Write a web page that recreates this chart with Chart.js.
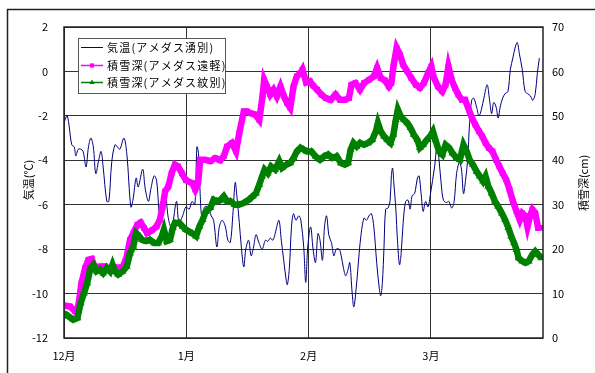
<!DOCTYPE html>
<html>
<head>
<meta charset="utf-8">
<script src="https://cdn.jsdelivr.net/npm/chart.js@4/dist/chart.umd.min.js"></script>
<style>
  html, body { margin: 0; padding: 0; background: #fff; }
  #wrap { width: 595px; height: 373px; position: relative; }
</style>
</head>
<body>
<div id="wrap"><canvas id="c" width="595" height="373"></canvas></div>
<script>
// Winter season, days counted from 1 December
const monthLabels = ['12月', '1月', '2月', '3月'];
const monthTickDays = [0, 30, 60, 90];

// 気温 (アメダス湧別), ℃
const tempDays = [0.0,0.8,1.9,2.5,2.9,3.5,4.1,4.7,5.4,6.0,6.6,7.2,7.8,8.5,9.1,9.6,10.5,11.0,11.7,12.5,13.1,13.7,14.7,15.4,16.4,16.9,17.7,18.2,19.3,19.9,20.7,21.3,22.1,22.7,23.5,24.2,24.8,25.5,26.2,26.7,27.6,28.2,29.1,29.9,30.7,31.4,32.1,32.6,33.0,33.4,33.8,34.5,35.3,36.1,36.7,37.5,38.1,38.8,39.6,40.2,40.8,41.4,42.0,42.4,43.0,43.5,44.1,44.6,45.3,45.9,46.5,47.1,47.8,48.6,49.4,50.0,50.6,51.2,51.8,52.7,53.3,53.9,54.5,54.8,55.3,55.8,56.3,56.9,57.6,58.1,58.8,59.3,59.8,60.5,61.1,61.7,62.3,62.8,63.4,63.9,64.4,65.0,65.6,66.2,66.8,67.5,68.0,68.5,69.1,69.7,70.1,70.7,71.1,71.7,72.4,72.9,73.6,74.2,74.8,75.4,76.0,76.7,77.3,77.7,78.1,78.5,78.9,79.5,80.0,80.3,80.6,80.9,81.4,81.8,82.3,82.7,83.2,83.8,84.4,84.9,85.4,86.0,86.7,87.1,87.6,88.1,88.7,89.3,89.9,90.9,91.5,92.0,92.6,93.1,93.8,94.4,95.1,95.7,96.3,97.0,97.5,98.0,98.5,99.0,99.5,100.0,100.5,101.2,101.8,102.4,103.0,103.8,104.4,104.9,105.4,106.0,106.5,107.0,107.6,108.2,108.9,109.5,110.1,110.7,111.2,111.7,112.4,113.1,113.7,114.4,115.0,115.6,116.1,116.6];
const tempValues = [-2.3,-2.0,-3.3,-3.4,-3.8,-3.5,-3.5,-3.6,-4.3,-3.4,-3.0,-3.4,-4.6,-4.0,-3.6,-4.3,-5.85,-5.85,-4.1,-3.3,-3.4,-3.5,-3.0,-3.7,-6.1,-5.8,-4.8,-5.2,-4.4,-5.25,-5.85,-5.3,-4.7,-4.9,-6.5,-6.1,-5.3,-6.5,-7.0,-6.8,-5.85,-6.8,-6.5,-6.1,-6.2,-5.85,-6.0,-3.4,-3.7,-5.5,-6.5,-6.1,-6.1,-6.5,-6.7,-7.9,-7.0,-6.7,-7.0,-7.6,-7.7,-6.5,-5.0,-5.6,-6.8,-7.9,-8.8,-8.0,-7.6,-8.3,-7.9,-7.35,-7.7,-8.0,-7.6,-7.65,-7.5,-7.6,-7.3,-6.7,-7.6,-8.5,-9.4,-9.6,-8.8,-7.0,-6.4,-6.7,-6.5,-6.7,-7.9,-9.5,-7.9,-7.0,-8.0,-8.6,-7.3,-7.6,-8.5,-7.0,-6.5,-7.4,-7.7,-8.3,-8.0,-8.0,-8.3,-8.8,-9.2,-8.9,-8.6,-10.0,-10.6,-9.7,-8.2,-7.3,-6.6,-6.7,-6.5,-6.4,-7.0,-8.6,-9.7,-10.1,-9.5,-7.9,-6.2,-6.15,-5.8,-4.7,-4.35,-5.0,-6.2,-7.6,-8.7,-8.2,-6.8,-5.85,-5.8,-6.2,-5.6,-5.5,-4.8,-4.7,-5.5,-6.3,-5.85,-6.1,-5.5,-4.3,-3.4,-4.0,-5.2,-5.8,-5.9,-5.85,-6.15,-5.85,-4.6,-4.1,-4.4,-5.5,-4.9,-4.0,-2.3,-1.3,-1.2,-1.6,-2.0,-1.7,-1.2,-0.6,-1.3,-1.9,-1.4,-1.6,-2.1,-1.6,-1.2,-1.0,-0.9,0.1,0.6,1.1,1.3,0.8,0.1,-0.9,-1.0,-1.1,-1.3,-1.0,-0.1,0.6];

// 積雪深 (アメダス遠軽), cm
const engaruDays = [0.0,1.5,2.7,3.5,4.3,5.2,6.0,6.8,7.6,8.8,10.1,11.1,12.1,13.3,14.5,15.4,16.2,17.0,18.0,18.8,19.6,20.4,21.5,22.7,23.5,24.2,24.8,25.6,26.4,27.2,28.0,28.9,29.9,31.4,32.2,32.9,33.4,34.7,35.9,37.1,38.3,39.2,40.0,41.2,42.2,43.0,44.1,44.9,45.7,46.9,47.9,48.7,49.1,49.8,50.6,51.4,52.2,53.1,53.9,54.7,55.5,56.3,57.1,58.0,58.5,59.4,60.3,61.1,62.1,63.1,64.2,65.4,66.6,67.7,68.9,69.9,70.5,71.5,72.6,73.6,74.8,76.0,76.8,77.7,78.7,79.7,80.3,80.8,81.6,82.4,83.2,84.2,85.2,86.3,87.3,88.3,89.3,90.1,90.6,91.7,92.8,93.6,94.3,95.1,95.9,96.7,97.6,98.4,99.3,100.1,100.9,101.8,102.6,103.4,104.2,105.1,106.0,106.8,107.6,108.5,109.3,110.1,111.0,111.8,112.4,113.2,113.7,114.3,114.9,115.6,116.3,116.8];
const engaruSnow = [7.3,7.1,6.0,7.1,12.4,15.8,17.6,17.8,15.8,16.1,16.1,15.4,16.0,15.8,16.1,18.4,22.1,23.6,25.5,26.0,24.8,23.6,24.2,25.1,26.6,29.6,33.0,34.1,37.1,39.0,38.6,37.1,35.5,34.9,33.4,34.9,40.1,40.1,39.8,40.5,40.0,40.9,43.1,43.9,42.0,46.1,51.0,51.0,50.6,50.3,49.1,54.4,58.1,56.6,54.8,55.9,54.4,56.6,54.5,52.9,51.8,56.6,58.9,59.6,60.4,57.5,57.8,56.8,55.9,54.8,54.0,53.6,54.8,53.6,53.6,54.0,57.0,57.4,55.9,57.4,58.1,58.9,60.8,58.5,58.0,56.6,57.4,61.1,65.3,63.8,61.5,60.0,58.5,57.0,56.3,57.4,59.6,61.1,58.9,56.6,55.5,57.0,61.1,58.1,56.3,54.8,53.6,53.6,51.4,49.5,48.0,46.5,45.4,43.9,42.8,42.0,40.1,38.6,37.1,35.6,33.4,30.8,28.5,26.6,28.1,27.4,25.1,27.4,28.9,28.1,24.8,24.8];

// 積雪深 (アメダス紋別), cm
const mombetsuDays = [0.0,1.1,2.3,3.3,4.1,4.9,5.7,6.5,7.2,8.0,8.8,9.6,10.5,11.3,11.9,12.5,13.3,14.4,15.4,16.2,17.0,17.7,18.2,19.1,20.1,21.1,22.1,23.1,24.0,24.5,25.2,26.0,26.7,27.2,28.3,29.1,29.9,31.4,32.4,33.2,34.0,34.8,35.9,36.7,37.5,38.3,39.2,40.0,40.8,41.9,42.9,44.1,45.3,46.3,47.1,47.9,48.6,49.2,50.0,50.8,51.8,52.8,53.5,54.5,55.5,56.3,57.1,58.0,58.8,59.6,60.7,61.7,62.8,63.8,64.8,65.8,66.9,67.9,68.9,69.7,70.3,71.0,71.8,72.6,73.6,74.6,75.6,76.5,77.0,77.7,78.5,79.3,80.1,80.8,81.4,81.9,82.6,83.4,84.2,85.0,85.8,86.7,87.3,88.1,89.0,89.9,90.5,91.1,92.0,92.8,93.6,94.5,95.3,96.3,97.1,98.0,98.8,99.5,100.3,101.2,102.0,102.8,103.4,104.1,104.9,105.7,106.5,107.4,108.2,109.0,109.7,110.4,111.0,111.5,112.4,113.2,114.0,114.9,115.6,116.3,117.1];
const mombetsuSnow = [5.6,4.9,4.1,4.5,7.9,10.1,12.4,15.8,16.5,15.0,15.4,14.6,15.8,15.0,16.5,15.0,14.3,15.0,16.1,19.1,20.6,23.6,23.2,22.1,21.8,22.1,21.4,21.4,22.9,24.4,21.8,22.1,24.8,25.9,25.9,25.1,24.4,23.6,22.9,25.1,26.6,28.5,29.3,31.1,30.8,31.0,31.9,30.8,30.8,30.0,30.0,30.4,31.1,31.9,32.6,34.5,36.4,37.9,37.1,38.6,37.9,39.8,38.3,39.0,39.4,40.5,42.0,42.8,42.4,42.0,42.0,40.9,40.1,40.9,41.3,40.5,40.9,39.4,39.0,39.4,42.4,43.9,43.1,43.9,43.5,43.9,44.6,46.5,48.4,46.5,45.4,44.6,43.9,45.8,49.1,51.4,49.9,49.1,48.4,47.3,45.8,44.6,42.8,43.5,44.6,45.5,46.5,44.6,42.0,41.3,43.5,42.8,41.6,40.5,40.1,43.5,42.0,40.1,39.0,37.5,36.4,35.3,36.4,34.1,32.6,30.8,29.6,28.1,26.6,24.8,22.9,21.4,19.9,18.0,17.3,16.9,17.3,18.8,19.5,18.8,18.0];

const toPoints = (xs, ys) => xs.map((x, i) => ({ x, y: ys[i] }));

const JP_FONT = "'Noto Sans CJK JP', 'Noto Sans', sans-serif";
Chart.defaults.font.family = JP_FONT;
Chart.defaults.font.size = 11;
Chart.defaults.color = '#000';

// Frame, in-plot legend and vertical axis titles
const decor = {
  id: 'decor',
  beforeDraw(chart) {
    const { ctx } = chart;
    ctx.save();
    ctx.fillStyle = '#fff';
    ctx.fillRect(0, 0, chart.width, chart.height);
    // outer chart frame
    ctx.strokeStyle = '#222';
    ctx.lineWidth = 1.5;
    ctx.beginPath();
    ctx.moveTo(7.5, chart.height + 2);
    ctx.lineTo(7.5, 9.5);
    ctx.lineTo(chart.width + 2, 9.5);
    ctx.stroke();
    ctx.restore();
  },
  afterDraw(chart) {
    const { ctx, chartArea: a } = chart;
    ctx.save();
    // plot area border
    ctx.strokeStyle = '#222';
    ctx.lineWidth = 1.5;
    ctx.strokeRect(a.left, a.top, a.right - a.left, a.bottom - a.top);

    // legend box
    const lx = 78, ly = 38, lw = 147, lh = 55;
    ctx.fillStyle = '#fff';
    ctx.fillRect(lx, ly, lw, lh);
    ctx.strokeStyle = '#555';
    ctx.lineWidth = 1;
    ctx.strokeRect(lx + 0.5, ly + 0.5, lw, lh);

    const rows = [47, 65, 82];
    ctx.font = '11px ' + JP_FONT;
    ctx.textBaseline = 'middle';
    ctx.textAlign = 'left';
    if ('letterSpacing' in ctx) ctx.letterSpacing = '1.2px';
    chart.data.datasets.forEach((ds, r) => {
      const y = rows[r];
      ctx.strokeStyle = ds.borderColor;
      ctx.lineWidth = r === 0 ? 1 : 1.5;
      ctx.beginPath();
      ctx.moveTo(81, y + 0.5);
      ctx.lineTo(103, y + 0.5);
      ctx.stroke();
      if (ds.pointStyle) {
        ctx.fillStyle = ds.borderColor;
        ctx.strokeStyle = ds.borderColor;
        Chart.helpers.drawPoint(ctx, { pointStyle: ds.pointStyle, radius: 3, rotation: 0, borderWidth: 0 }, 92, y + 0.5);
      }
      ctx.fillStyle = '#000';
      ctx.fillText(ds.label, 107, y + 1);
    });
    if ('letterSpacing' in ctx) ctx.letterSpacing = '0px';

    // axis titles, reading bottom to top
    ctx.font = '11px ' + JP_FONT;
    ctx.textAlign = 'center';
    ctx.textBaseline = 'middle';
    ctx.fillStyle = '#000';
    ctx.save();
    ctx.translate(29, 180);
    ctx.rotate(-Math.PI / 2);
    ctx.fillText('気温(℃)', 0, 0);
    ctx.restore();
    ctx.save();
    ctx.translate(584, 183);
    ctx.rotate(-Math.PI / 2);
    ctx.fillText('積雪深(cm)', 0, 0);
    ctx.restore();
    ctx.restore();
  }
};

new Chart(document.getElementById('c'), {
  type: 'line',
  data: {
    datasets: [
      {
        label: '気温(アメダス湧別)',
        data: toPoints(tempDays, tempValues),
        yAxisID: 'y',
        borderColor: '#000080',
        borderWidth: 1,
        pointRadius: 0,
        tension: 0.35,
        order: 3
      },
      {
        label: '積雪深(アメダス遠軽)',
        data: toPoints(engaruDays, engaruSnow),
        yAxisID: 'y2',
        borderColor: '#FF00FF',
        backgroundColor: '#FF00FF',
        borderWidth: 6.5,
        pointStyle: 'rect',
        pointRadius: 4,
        pointBorderWidth: 0,
        pointBackgroundColor: '#FF00FF',
        tension: 0,
        order: 2
      },
      {
        label: '積雪深(アメダス紋別)',
        data: toPoints(mombetsuDays, mombetsuSnow),
        yAxisID: 'y2',
        borderColor: '#008000',
        backgroundColor: '#008000',
        borderWidth: 6.5,
        pointStyle: 'triangle',
        pointRadius: 4.5,
        pointBorderWidth: 0,
        pointBackgroundColor: '#008000',
        tension: 0,
        order: 1
      }
    ]
  },
  options: {
    responsive: false,
    animation: false,
    devicePixelRatio: 1,
    layout: { padding: { top: 27, left: 0, right: 0, bottom: 0 } },
    plugins: { legend: { display: false }, tooltip: { enabled: false } },
    scales: {
      x: {
        type: 'linear',
        min: 0,
        max: 117.5,
        afterBuildTicks(scale) { scale.ticks = monthTickDays.map(v => ({ value: v })); },
        afterFit(scale) { scale.height = 35; },
        grid: { color: '#333', lineWidth: 1, drawTicks: false },
        border: { display: false },
        ticks: {
          padding: 11,
          maxRotation: 0,
          autoSkip: false,
          callback: (v) => { const i = monthTickDays.indexOf(v); return i >= 0 ? monthLabels[i] : ''; }
        }
      },
      y: {
        position: 'left',
        min: -12,
        max: 2,
        afterFit(scale) { scale.width = 64; },
        grid: { color: '#333', lineWidth: 1, drawTicks: false },
        border: { display: false },
        ticks: { stepSize: 2, padding: 16, callback: (v) => String(v) }
      },
      y2: {
        position: 'right',
        min: 0,
        max: 70,
        afterFit(scale) { scale.width = 52; },
        grid: { display: false, drawTicks: false },
        border: { display: false },
        ticks: { stepSize: 10, padding: 9, callback: (v) => String(v) }
      }
    }
  },
  plugins: [decor]
});
</script>
</body>
</html>
